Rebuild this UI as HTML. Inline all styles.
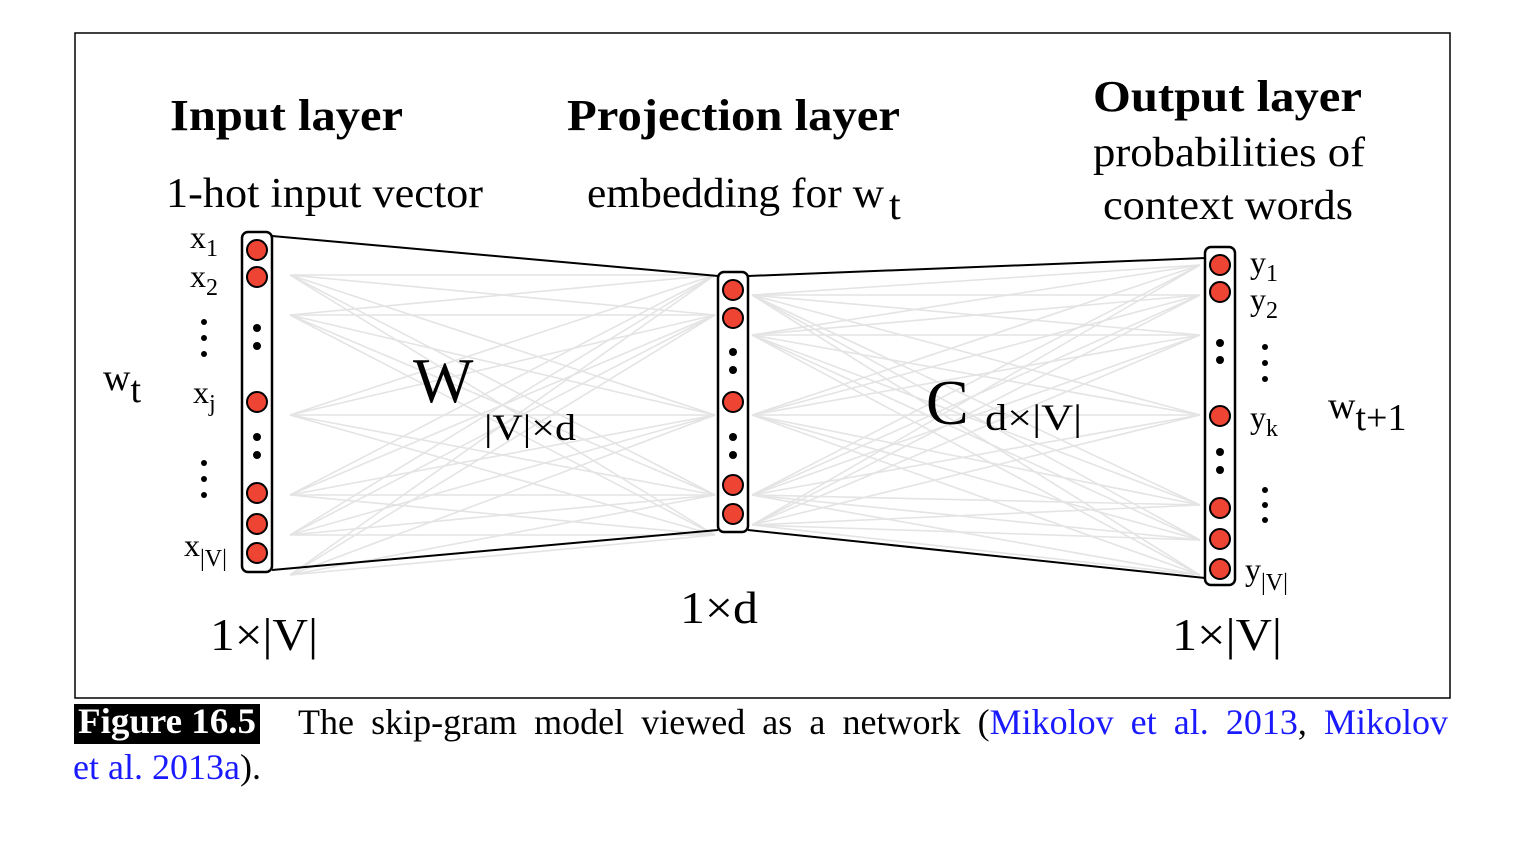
<!DOCTYPE html>
<html><head><meta charset="utf-8"><style>
body{margin:0;background:#fff;position:relative;width:1536px;height:844px;overflow:hidden}
svg text{font-family:"Liberation Serif",serif;fill:#000}
.cap{position:absolute;font-family:"Liberation Serif",serif;font-size:36px;line-height:45px;white-space:nowrap}
.blue{color:#1a1aff}
</style></head><body>
<svg width="1536" height="844" viewBox="0 0 1536 844" style="position:absolute;left:0;top:0">
<rect x="75" y="33" width="1375" height="665" fill="none" stroke="#000" stroke-width="1.5"/>
<g id="gray" stroke="#e4e4e4" stroke-width="1.6" fill="none"></g>
<g id="main"></g>
<text x="170" y="130" font-size="44" font-weight="bold" textLength="233" lengthAdjust="spacingAndGlyphs">Input layer</text>
<text x="567" y="130" font-size="44" font-weight="bold" textLength="333" lengthAdjust="spacingAndGlyphs">Projection layer</text>
<text x="1093" y="111" font-size="44" font-weight="bold" textLength="269" lengthAdjust="spacingAndGlyphs">Output layer</text>
<text x="1093" y="166" font-size="42" textLength="272" lengthAdjust="spacingAndGlyphs">probabilities of</text>
<text x="1103" y="219" font-size="42" textLength="250" lengthAdjust="spacingAndGlyphs">context words</text>
<text x="166" y="207" font-size="42" textLength="317" lengthAdjust="spacingAndGlyphs">1-hot input vector</text>
<text x="587" y="207" font-size="42" textLength="297" lengthAdjust="spacingAndGlyphs">embedding for w</text>
<text x="889" y="219" font-size="42">t</text>
<text x="103" y="390" font-size="38">w<tspan dy="12">t</tspan></text>
<text x="1328" y="418" font-size="38">w<tspan dy="12">t+1</tspan></text>
<text x="413" y="402" font-size="64">W</text>
<text x="484" y="440" font-size="37" textLength="92" lengthAdjust="spacingAndGlyphs">|V|×d</text>
<text x="926" y="424" font-size="64">C</text>
<text x="985" y="430" font-size="37" textLength="97" lengthAdjust="spacingAndGlyphs">d×|V|</text>
<text x="210" y="650" font-size="46" textLength="108" lengthAdjust="spacingAndGlyphs">1×|V|</text>
<text x="680" y="623" font-size="46" textLength="78" lengthAdjust="spacingAndGlyphs">1×d</text>
<text x="1172" y="650" font-size="46" textLength="110" lengthAdjust="spacingAndGlyphs">1×|V|</text>
<g font-size="32">
<text x="190" y="248">x<tspan font-size="24" dy="8">1</tspan></text>
<text x="190" y="287">x<tspan font-size="24" dy="8">2</tspan></text>
<text x="193" y="403">x<tspan font-size="24" dy="8">j</tspan></text>
<text x="184" y="556">x<tspan font-size="24" dy="10">|V|</tspan></text>
</g>
<g font-size="32">
<text x="1250" y="273">y<tspan font-size="24" dy="8">1</tspan></text>
<text x="1250" y="310">y<tspan font-size="24" dy="8">2</tspan></text>
<text x="1250" y="428">y<tspan font-size="24" dy="8">k</tspan></text>
<text x="1245" y="580">y<tspan font-size="24" dy="10">|V|</tspan></text>
</g>
<rect x="74" y="704" width="186" height="40" fill="#000"/>
<text x="78" y="733" font-size="36" font-weight="bold" textLength="178" lengthAdjust="spacingAndGlyphs" style="fill:#fff">Figure 16.5</text>
</svg>
<div class="cap" style="left:298px;top:700px;width:1150px;text-align:justify;text-align-last:justify;white-space:normal">The skip-gram model viewed as a network (<span class="blue">Mikolov et al. 2013</span>, <span class="blue">Mikolov</span></div>
<div class="cap" style="left:73px;top:745px"><span class="blue">et al. 2013a</span>).</div>
<script>
const NS="http://www.w3.org/2000/svg";
const inNodes=[250,277,402,493,524,553], inDots=[328,346,437,455];
const projNodes=[290,318,402,485,514], projDots=[352,370,437,455];
const outNodes=[265,292,416,508,539,569], outDots=[343,360,452,470];
const grayLeftIn=[275,315,415,495,535,575], grayLeftOut=[275,315,415,495,535];
const grayRightIn=[295,335,415,495,525], grayRightOut=[265,295,335,415,505,540,575];
function mk(tag,attrs,parent){const e=document.createElementNS(NS,tag);for(const k in attrs)e.setAttribute(k,attrs[k]);parent.appendChild(e);return e;}
const gray=document.getElementById('gray'), main=document.getElementById('main');
grayLeftIn.forEach(a=>grayLeftOut.forEach(b=>{const l=mk('line',{x1:290,y1:a,x2:715,y2:b},gray);

}));
grayRightIn.forEach(a=>grayRightOut.forEach(b=>{const l=mk('line',{x1:752,y1:a,x2:1200,y2:b},gray);

}));
[[272,236,718,276],[272,570,718,530],[748,276,1205,258],[748,530,1205,578]].forEach(p=>{
const l=mk('line',{x1:p[0],y1:p[1],x2:p[2],y2:p[3],stroke:'#000','stroke-width':2},main);

});
function column(cx,top,bot,nodes,dots,name){
const r=mk('rect',{x:cx-15,y:top,width:30,height:bot-top,rx:6,fill:'#fff',stroke:'#000','stroke-width':2.5},main);


nodes.forEach(y=>{const c=mk('circle',{cx:cx,cy:y,r:10,fill:'#ee4433',stroke:'#000','stroke-width':2},main);

});
dots.forEach(y=>{const c=mk('circle',{cx:cx,cy:y,r:4,fill:'#000'},main);

});
}
column(257,232,572,inNodes,inDots,'input-layer');
column(733,272,532,projNodes,projDots,'projection-layer');
column(1220,247,585,outNodes,outDots,'output-layer');
[[204,[322,338,354,463,479,495]],[1265,[347,363,379,490,505,520]]].forEach(([x,ys])=>ys.forEach(y=>{
const c=mk('circle',{cx:x,cy:y,r:3,fill:'#000'},main);

}));
</script>
</body></html>
